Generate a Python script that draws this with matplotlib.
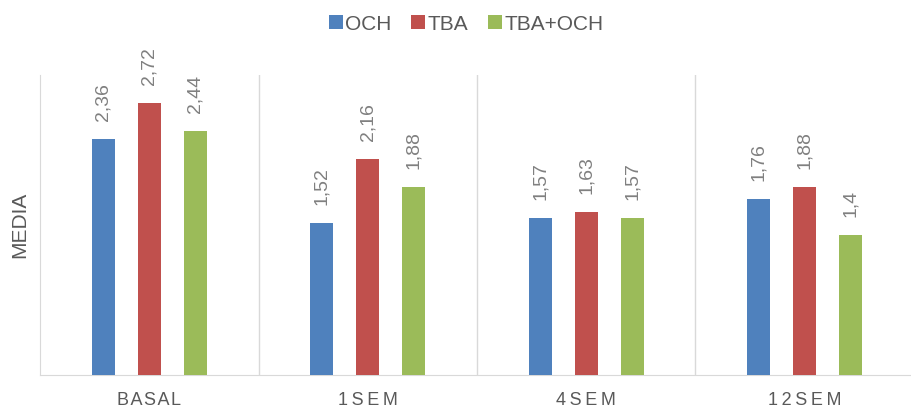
import matplotlib.pyplot as plt
import numpy as np

plt.rcParams['font.family'] = ['Liberation Sans', 'DejaVu Sans']

categories = ["B\u200aA\u200aS\u200aA\u200aL", "1\u2009S\u2009E\u2009M",
              "4\u2009S\u2009E\u2009M", "1\u20092\u2009S\u2009E\u2009M"]
series = ["OCH", "TBA", "TBA+OCH"]
och = [2.36, 1.52, 1.57, 1.76]
tba = [2.72, 2.16, 1.63, 1.88]
tba_och = [2.44, 1.88, 1.57, 1.4]

colors = ["#4F81BD", "#C0504D", "#9BBB59"]
text_color = "#595959"
grid_color = "#D9D9D9"

fig = plt.figure(figsize=(9.12, 4.13), dpi=100)
ax = fig.add_axes([0.044, 0.092, 0.958, 0.726])

x = np.arange(len(categories))
width = 0.105
step = 0.21
for k, (name, vals) in enumerate(zip(series, [och, tba, tba_och])):
    pos = x + (k - 1) * step
    bars = ax.bar(pos, vals, width, color=colors[k], label=name, zorder=3)
    for b, v in zip(bars, vals):
        ax.annotate(("%g" % v).replace(".", ","),
                    (b.get_x() + b.get_width() / 2, v),
                    xytext=(0, 13), textcoords="offset points",
                    rotation=90, ha="center", va="bottom",
                    fontsize=14, color="#808080", annotation_clip=False)

ax.set_xlim(-0.5, len(categories) - 0.5)
ax.set_ylim(0, 3.0)
ax.set_yticks([])
ax.set_xticks(x)
ax.set_xticklabels(categories, fontsize=13, color=text_color)
ax.tick_params(axis="x", length=0, pad=12)

# separators between categories
for b in np.arange(0.5, len(categories) - 0.5, 1):
    ax.axvline(b, color=grid_color, lw=1, zorder=1)

for s in ["top", "right"]:
    ax.spines[s].set_visible(False)
ax.spines["left"].set_color(grid_color)
ax.spines["bottom"].set_color(grid_color)

ax.set_ylabel("MEDIA", fontsize=15, color=text_color, labelpad=8)

fig.legend(loc="upper center", bbox_to_anchor=(0.511, 1.01), ncol=3,
           frameon=False, fontsize=15, handlelength=0.68, handleheight=0.68,
           handletextpad=0.1, columnspacing=0.95, labelcolor=text_color)

fig.savefig("out.png", dpi=100)
